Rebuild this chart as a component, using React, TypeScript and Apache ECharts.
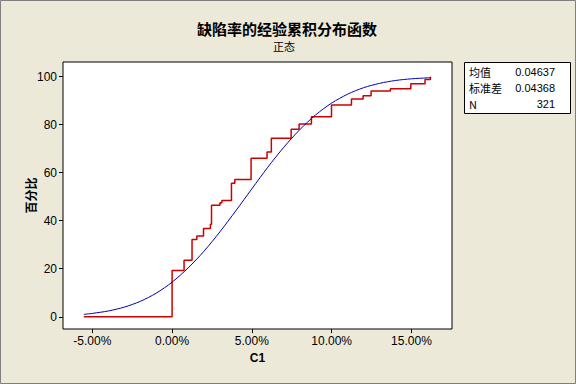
import React, { useEffect, useRef } from "react";
import * as echarts from "echarts";

// Empirical CDF step points (x in %, cumulative percent after the jump)
const ecdfX = [-5.53, 0.0, 0.75, 1.25, 1.55, 1.97, 2.4, 2.47, 3.0, 3.12, 3.72, 3.93, 4.95, 5.95, 6.22, 7.46, 7.96, 8.73, 9.99, 11.24, 11.97, 12.47, 13.68, 14.96, 15.85, 16.19];
const ecdfY = [0, 19.3, 23.5, 32.2, 33.6, 36.8, 38.5, 46.4, 47.5, 48.4, 55.6, 57.2, 66.0, 68.6, 74.3, 78.1, 80.3, 83.3, 88.2, 90.7, 92.0, 94.0, 95.0, 97.0, 98.8, 100];

// Fitted normal CDF curve (x in %, percent)
const fitX = [-5.53, -5, -4, -3, -2, -1, 0, 1, 2, 3, 4, 5, 6, 7, 8, 9, 10, 11, 12, 13, 14, 15, 16, 16.19];
const fitY = [1.0, 1.4, 2.4, 4.0, 6.4, 9.8, 14.4, 20.3, 27.3, 35.4, 44.2, 53.3, 62.3, 70.6, 77.9, 84.1, 89.0, 92.7, 95.4, 97.2, 98.4, 99.1, 99.5, 99.6];

const xTicks = [-5, 0, 5, 10, 15];
const yTicks = [0, 20, 40, 60, 80, 100];

const titleText = "缺陷率的经验累积分布函数";
const subtitleText = "正态";
const statLabels = ["均值", "标准差", "N"];
const statValues = ["0.04637", "0.04368", "321"];

const CJK = "'Noto Sans CJK SC', sans-serif";
const NUM = "'Liberation Sans', 'DejaVu Sans', sans-serif";

export default function App() {
  const ref = useRef<HTMLDivElement>(null);
  useEffect(() => {
    if (!ref.current) return;
    const chart = echarts.init(ref.current, null, { renderer: "svg" });
    const ecdf = ecdfX.map((x, i) => [x, ecdfY[i]]);
    const fit = fitX.map((x, i) => [x, fitY[i]]);
    const graphics: any[] = [
      {
        type: "rect",
        shape: { x: 0.5, y: 0.5, width: 575, height: 383 },
        style: { fill: "none", stroke: "#7f7f7f", lineWidth: 1 },
        z: 100,
      },
      {
        type: "text",
        x: 287,
        y: 28,
        style: { text: titleText, font: `bold 15px ${CJK}`, fill: "#000", align: "center", verticalAlign: "middle" },
      },
      {
        type: "text",
        x: 284,
        y: 46,
        style: { text: subtitleText, font: `11px ${CJK}`, fill: "#000", align: "center", verticalAlign: "middle" },
      },
      {
        type: "rect",
        shape: { x: 464.5, y: 62.5, width: 106, height: 51 },
        style: { fill: "#fff", stroke: "#000", lineWidth: 1 },
      },
    ];
    statLabels.forEach((l, i) => {
      graphics.push({
        type: "text",
        x: 469,
        y: 72 + i * 16,
        style: { text: l, font: `11px ${CJK}`, fill: "#000", align: "left", verticalAlign: "middle" },
      });
      graphics.push({
        type: "text",
        x: 555,
        y: 72 + i * 16,
        style: { text: statValues[i], font: `11px ${NUM}`, fill: "#000", align: "right", verticalAlign: "middle" },
      });
    });

    chart.setOption({
      animation: false,
      backgroundColor: "#ECE9D8",
      grid: {
        left: 63,
        top: 62,
        width: 389,
        height: 267,
        show: true,
        backgroundColor: "#fff",
        borderColor: "#000",
        borderWidth: 1,
      },
      xAxis: {
        type: "value",
        min: -6.836,
        max: 17.54,
        name: "C1",
        nameLocation: "middle",
        nameGap: 23,
        nameMoveOverlap: false,
        nameTextStyle: { fontFamily: NUM, fontWeight: "bold", fontSize: 12, color: "#000" },
        axisLine: { show: false, onZero: false },
        splitLine: { show: false },
        axisTick: { show: true, length: 4, lineStyle: { color: "#000" }, customValues: xTicks },
        axisLabel: {
          customValues: xTicks,
          fontFamily: NUM,
          fontSize: 12,
          color: "#000",
          margin: 6,
          formatter: (v: number) => v.toFixed(2) + "%",
        },
      },
      yAxis: {
        type: "value",
        min: -5.1,
        max: 106.1,
        name: "百分比",
        nameLocation: "middle",
        nameGap: 27,
        nameMoveOverlap: false,
        nameRotate: 90,
        nameTextStyle: { fontFamily: CJK, fontWeight: "bold", fontSize: 12, color: "#000" },
        axisLine: { show: false, onZero: false },
        splitLine: { show: false },
        axisTick: { show: true, length: 4, lineStyle: { color: "#000" }, customValues: yTicks },
        axisLabel: { customValues: yTicks, fontFamily: NUM, fontSize: 12, color: "#000", margin: 6 },
      },
      series: [
        {
          type: "line",
          data: fit,
          smooth: 0.3,
          symbol: "none",
          lineStyle: { color: "#0000B0", width: 1 },
          z: 3,
        },
        {
          type: "line",
          data: ecdf,
          step: "end",
          symbol: "none",
          lineStyle: { color: "#CC0000", width: 1.5 },
          z: 2,
        },
      ],
      graphic: graphics,
    });
    return () => chart.dispose();
  }, []);
  return <div ref={ref} style={{ position: "absolute", left: 0, top: 0, width: 576, height: 384 }} />;
}
